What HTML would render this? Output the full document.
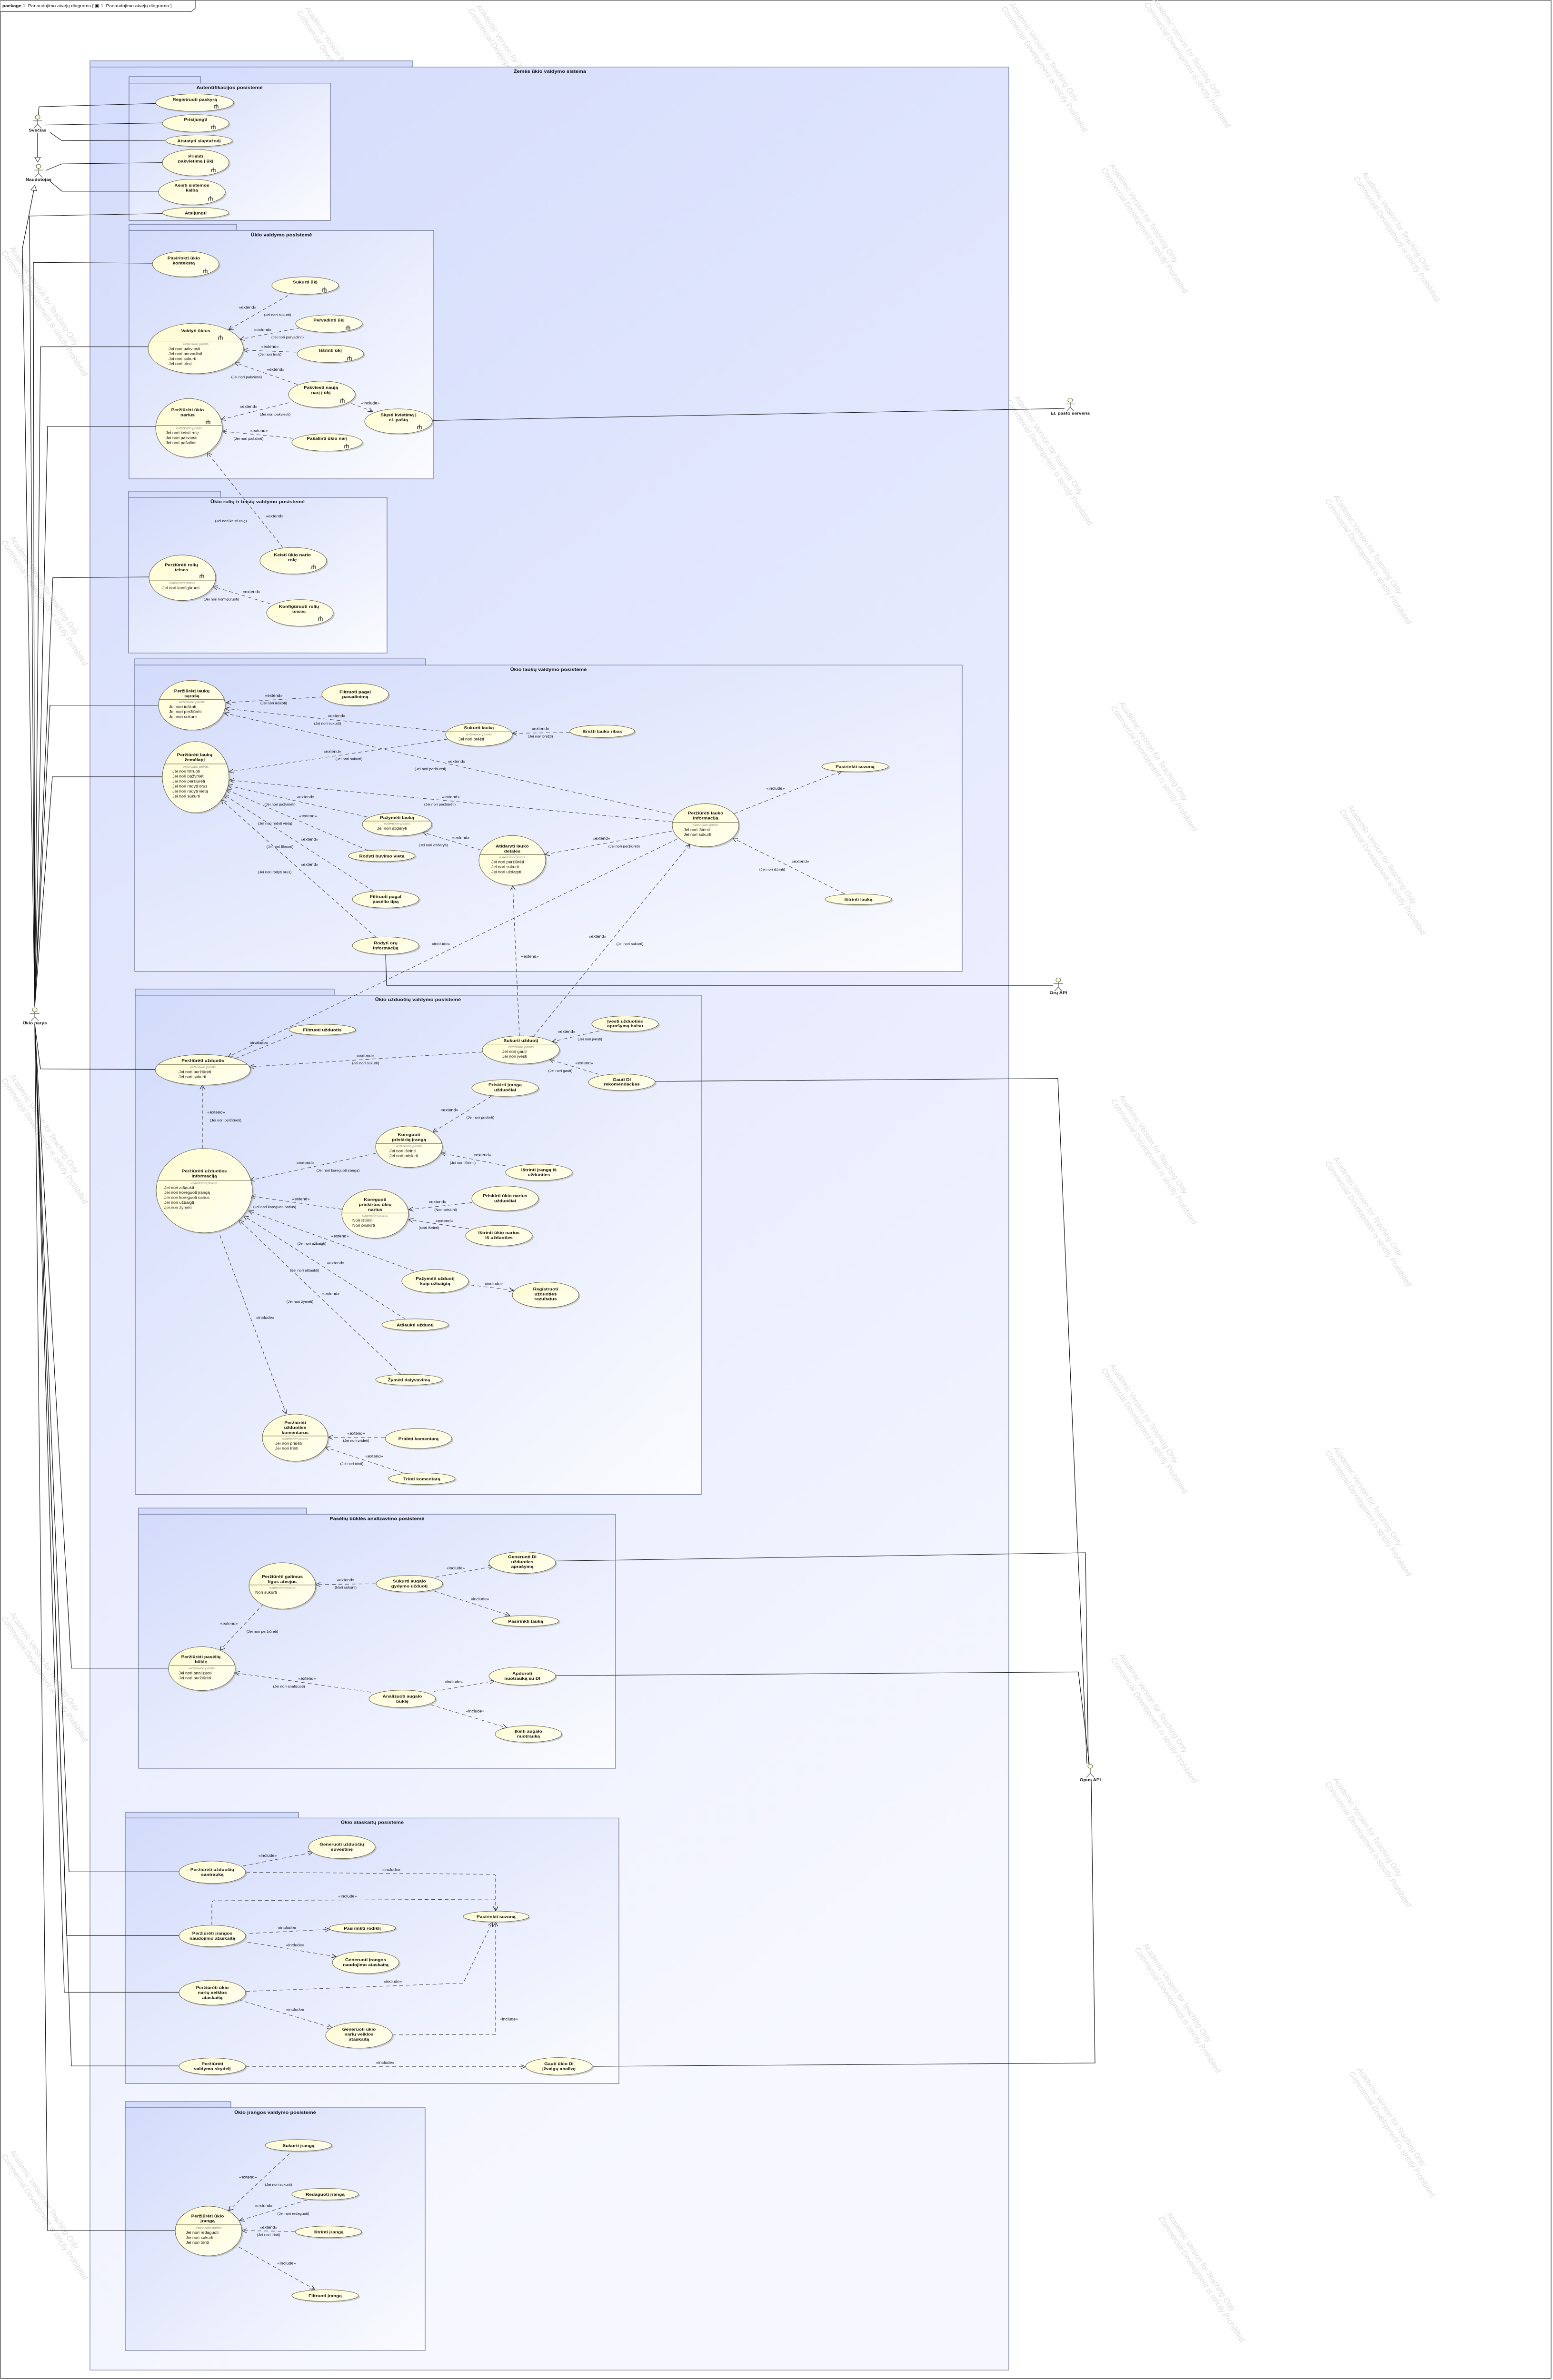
<!DOCTYPE html>
<html><head><meta charset="utf-8">
<style>
html,body{margin:0;padding:0;background:#fff;width:100vw;height:100vh;overflow:hidden;}
svg{display:block;width:100vw;height:100vh;}
text{font-family:"Liberation Sans",sans-serif;fill:#111;}
.t{font-size:10px;font-weight:bold;text-anchor:middle;}
.p{font-size:11px;font-weight:bold;text-anchor:middle;}
.x{font-size:7.5px;font-style:italic;fill:#888;text-anchor:middle;}
.k{font-size:9px;}
.l{font-size:9px;text-anchor:middle;}
.c{font-size:8px;text-anchor:middle;}
.w{font-size:17px;fill:#dcdcdc;}
.u{fill:url(#ug);stroke:#5a5a3a;stroke-width:1;}
.sh{fill:#9a9a9a;opacity:.45;}
.d{fill:none;stroke:#333;stroke-width:1;stroke-dasharray:8 6;marker-end:url(#ar);}
.s{fill:none;stroke:#111;stroke-width:1.2;}
.dv{stroke:#5a5a3a;stroke-width:1;}
.pk{stroke:#6a7090;stroke-width:1.2;fill:url(#pg);}
.tb{stroke:#6a7090;stroke-width:1.2;fill:#d3dbfb;}
</style></head><body>
<svg viewBox="0 0 3262 5751" preserveAspectRatio="none" xmlns="http://www.w3.org/2000/svg">
<defs>
<linearGradient id="ug" x1="0" y1="0" x2="1" y2="1"><stop offset="0" stop-color="#fffbd0"/><stop offset="1" stop-color="#fffff2"/></linearGradient>
<linearGradient id="pg" x1="0" y1="0" x2="1" y2="1"><stop offset="0" stop-color="#d3dbfb"/><stop offset="1" stop-color="#fbfcff"/></linearGradient>
<linearGradient id="mg" x1="0" y1="0" x2="0.3" y2="1"><stop offset="0" stop-color="#d4dcfc"/><stop offset="1" stop-color="#f7f8ff"/></linearGradient>
<marker id="ar" viewBox="0 0 12 12" refX="11" refY="6" markerWidth="12" markerHeight="12" orient="auto" markerUnits="userSpaceOnUse"><path d="M1,1 L11,6 L1,11" fill="none" stroke="#222" stroke-width="1.2"/></marker>
<marker id="gen" viewBox="0 0 14 14" refX="13" refY="7" markerWidth="14" markerHeight="14" orient="auto" markerUnits="userSpaceOnUse"><path d="M1,1 L13,7 L1,13 Z" fill="#fff" stroke="#222"/></marker>
<g id="ic"><path d="M4,0 V11 M0,4 H8 M0,4 V11 M8,4 V11" stroke="#333" stroke-width="1.4" fill="none"/></g>
<g id="act"><circle cx="0" cy="0" r="5" fill="#ffffd0" stroke="#555"/><path d="M0,5 V17 M-10,9 H10 M0,17 L-8,27 M0,17 L8,27" stroke="#555" stroke-width="1.2" fill="none"/></g>
</defs>

<rect x="1" y="1" width="3257" height="5746" fill="#fff" stroke="#333" stroke-width="1.2"/>
<path d="M1,1 H410 V20 L402,28 H1" fill="#fff" stroke="#333" stroke-width="1.2"/>
<text x="5" y="17" style="font-size:10px"><tspan font-weight="bold">package</tspan>  1. Panaudojimo atvejų diagrama [ ▣ 1. Panaudojimo atvejų diagrama ]</text>

<g>
<text class="w" transform="translate(640,20) rotate(60)">Academic Version for Teaching Only<tspan x="0" dy="20">Commercial Development is strictly Prohibited</tspan></text>
<text class="w" transform="translate(1000,15) rotate(60)">Academic Version for Teaching Only<tspan x="0" dy="20">Commercial Development is strictly Prohibited</tspan></text>
<text class="w" transform="translate(2120,10) rotate(60)">Academic Version for Teaching Only<tspan x="0" dy="20">Commercial Development is strictly Prohibited</tspan></text>
<text class="w" transform="translate(2420,0) rotate(60)">Academic Version for Teaching Only<tspan x="0" dy="20">Commercial Development is strictly Prohibited</tspan></text>
<text class="w" transform="translate(2330,400) rotate(60)">Academic Version for Teaching Only<tspan x="0" dy="20">Commercial Development is strictly Prohibited</tspan></text>
<text class="w" transform="translate(2860,420) rotate(60)">Academic Version for Teaching Only<tspan x="0" dy="20">Commercial Development is strictly Prohibited</tspan></text>
<text class="w" transform="translate(2130,960) rotate(60)">Academic Version for Teaching Only<tspan x="0" dy="20">Commercial Development is strictly Prohibited</tspan></text>
<text class="w" transform="translate(2800,1200) rotate(60)">Academic Version for Teaching Only<tspan x="0" dy="20">Commercial Development is strictly Prohibited</tspan></text>
<text class="w" transform="translate(2350,1700) rotate(60)">Academic Version for Teaching Only<tspan x="0" dy="20">Commercial Development is strictly Prohibited</tspan></text>
<text class="w" transform="translate(2830,1950) rotate(60)">Academic Version for Teaching Only<tspan x="0" dy="20">Commercial Development is strictly Prohibited</tspan></text>
<text class="w" transform="translate(2350,2650) rotate(60)">Academic Version for Teaching Only<tspan x="0" dy="20">Commercial Development is strictly Prohibited</tspan></text>
<text class="w" transform="translate(2800,2800) rotate(60)">Academic Version for Teaching Only<tspan x="0" dy="20">Commercial Development is strictly Prohibited</tspan></text>
<text class="w" transform="translate(2330,3300) rotate(60)">Academic Version for Teaching Only<tspan x="0" dy="20">Commercial Development is strictly Prohibited</tspan></text>
<text class="w" transform="translate(2800,3500) rotate(60)">Academic Version for Teaching Only<tspan x="0" dy="20">Commercial Development is strictly Prohibited</tspan></text>
<text class="w" transform="translate(2350,4000) rotate(60)">Academic Version for Teaching Only<tspan x="0" dy="20">Commercial Development is strictly Prohibited</tspan></text>
<text class="w" transform="translate(2800,4300) rotate(60)">Academic Version for Teaching Only<tspan x="0" dy="20">Commercial Development is strictly Prohibited</tspan></text>
<text class="w" transform="translate(2400,4700) rotate(60)">Academic Version for Teaching Only<tspan x="0" dy="20">Commercial Development is strictly Prohibited</tspan></text>
<text class="w" transform="translate(2850,5000) rotate(60)">Academic Version for Teaching Only<tspan x="0" dy="20">Commercial Development is strictly Prohibited</tspan></text>
<text class="w" transform="translate(2450,5350) rotate(60)">Academic Version for Teaching Only<tspan x="0" dy="20">Commercial Development is strictly Prohibited</tspan></text>
<text class="w" transform="translate(20,600) rotate(60)">Academic Version for Teaching Only<tspan x="0" dy="20">Commercial Development is strictly Prohibited</tspan></text>
<text class="w" transform="translate(20,1300) rotate(60)">Academic Version for Teaching Only<tspan x="0" dy="20">Commercial Development is strictly Prohibited</tspan></text>
<text class="w" transform="translate(20,2600) rotate(60)">Academic Version for Teaching Only<tspan x="0" dy="20">Commercial Development is strictly Prohibited</tspan></text>
<text class="w" transform="translate(20,3900) rotate(60)">Academic Version for Teaching Only<tspan x="0" dy="20">Commercial Development is strictly Prohibited</tspan></text>
<text class="w" transform="translate(20,5200) rotate(60)">Academic Version for Teaching Only<tspan x="0" dy="20">Commercial Development is strictly Prohibited</tspan></text>
</g>

<rect x="189" y="147" width="678" height="15" class="tb"/>
<rect x="189" y="162" width="1930" height="5565" fill="url(#mg)" stroke="#6a7090" stroke-width="1.2"/>
<text class="p" x="1155" y="176">Žemės ūkio valdymo sistema</text>

<rect x="271" y="185" width="150" height="16" class="tb"/><rect x="271" y="201" width="423" height="332" class="pk"/>
<text class="p" x="482" y="215">Autentifikacijos posistemė</text>

<rect x="271" y="542" width="226" height="15" class="tb"/><rect x="271" y="557" width="640" height="600" class="pk"/>
<text class="p" x="591" y="571">Ūkio valdymo posistemė</text>

<rect x="270" y="1187" width="193" height="15" class="tb"/><rect x="270" y="1202" width="543" height="376" class="pk"/>
<text class="p" x="541" y="1216">Ūkio rolių ir teisių valdymo posistemė</text>

<rect x="283" y="1592" width="611" height="15" class="tb"/><rect x="283" y="1607" width="1738" height="740" class="pk"/>
<text class="p" x="1152" y="1621">Ūkio laukų valdymo posistemė</text>

<rect x="284" y="2390" width="418" height="15" class="tb"/><rect x="284" y="2405" width="1189" height="1206" class="pk"/>
<text class="p" x="878" y="2419">Ūkio užduočių valdymo posistemė</text>

<rect x="291" y="3644" width="353" height="15" class="tb"/><rect x="291" y="3659" width="1002" height="614" class="pk"/>
<text class="p" x="792" y="3673">Pasėlių būklės analizavimo posistemė</text>

<rect x="264" y="4379" width="363" height="14" class="tb"/><rect x="264" y="4393" width="1036" height="642" class="pk"/>
<text class="p" x="782" y="4407">Ūkio ataskaitų posistemė</text>

<rect x="263" y="5078" width="222" height="15" class="tb"/><rect x="263" y="5093" width="630" height="587" class="pk"/>
<text class="p" x="578" y="5108">Ūkio įrangos valdymo posistemė</text>

<g class="s">
<path d="M80,280 L82,258 L327,250"/>
<path d="M94,302 L341,297"/>
<path d="M105,320 L130,340 L347,339"/>
<path d="M96,412 L130,396 L341,393"/>
<path d="M105,438 L130,462 L333,462"/>
<path d="M73,2432 L62,522 L341,516"/>
<path d="M73,2432 L70,634 L320,636"/>
<path d="M73,2432 L85,838 L312,838"/>
<path d="M73,2432 L100,1030 L327,1030"/>
<path d="M73,2432 L111,1396 L313,1394"/>
<path d="M73,2432 L105,1704 L334,1704"/>
<path d="M73,2432 L110,1877 L341,1877"/>
<path d="M73,2475 L85,2583 L326,2584"/>
<path d="M73,2475 L150,4031 L355,4031"/>
<path d="M73,2475 L145,4523 L376,4523"/>
<path d="M73,2475 L140,4677 L376,4677"/>
<path d="M73,2475 L135,4814 L376,4814"/>
<path d="M73,2475 L150,4992 L376,4992"/>
<path d="M73,2475 L100,5390 L368,5390"/>
<path d="M908,1016 L2236,987"/>
<path d="M810,2306 L812,2381 L2212,2381"/>
<path d="M1376,2613 L2222,2606 L2283,4262"/>
<path d="M1168,3772 L2280,3752 L2286,4262"/>
<path d="M1168,4049 L2265,4040 L2288,4262"/>
<path d="M1245,4993 L2300,4985 L2292,4302"/>
</g>
<path d="M73,2432 L47,600 L73,448" fill="none" stroke="#111" stroke-width="1.2" marker-end="url(#gen)"/>
<path d="M79,322 L79,392" fill="none" stroke="#111" stroke-width="1.2" marker-end="url(#gen)"/>

<use href="#act" x="79" y="283"/><text class="t" x="79" y="318">Svečias</text>
<use href="#act" x="81" y="402"/><text class="t" x="81" y="437">Naudotojas</text>
<use href="#act" x="73" y="2440"/><text class="t" x="73" y="2475">Ūkio narys</text>
<use href="#act" x="2248" y="967"/><text class="t" x="2248" y="1002">El. pašto serveris</text>
<use href="#act" x="2223" y="2368"/><text class="t" x="2223" y="2402">Orų API</text>
<use href="#act" x="2290" y="4268"/><text class="t" x="2290" y="4304">Opus API</text>

<g class="d">
<path d="M605,714 L480,797"/><path d="M631,792 L504,820"/><path d="M622,851 L511,846"/>
<path d="M625,929 L493,876"/><path d="M607,973 L464,1014"/><path d="M738,975 L783,994"/>
<path d="M616,1059 L466,1042"/><path d="M594,1323 L435,1093"/>
<path d="M568,1459 L447,1417"/>
<path d="M677,1684 L475,1698"/><path d="M937,1768 L473,1712"/><path d="M1197,1770 L1076,1772"/>
<path d="M940,1786 L481,1865"/><path d="M1412,1968 L471,1723"/><path d="M1412,1986 L481,1885"/>
<path d="M771,1974 L478,1898"/><path d="M773,2055 L475,1908"/><path d="M784,2153 L470,1920"/>
<path d="M790,2265 L465,1933"/><path d="M1010,2054 L888,2011"/><path d="M1412,2008 L1144,2065"/>
<path d="M1542,1966 L1768,1863"/><path d="M1774,2160 L1539,2025"/>
<path d="M1423,2027 L479,2554"/><path d="M1120,2505 L1449,2040"/><path d="M1091,2503 L1077,2141"/>
<path d="M494,2558 L643,2488"/><path d="M1013,2542 L523,2578"/><path d="M1259,2491 L1160,2517"/>
<path d="M1258,2596 L1154,2560"/><path d="M1032,2649 L909,2736"/><path d="M1062,2817 L926,2786"/>
<path d="M789,2787 L525,2852"/><path d="M718,2922 L526,2890"/><path d="M991,2906 L858,2923"/>
<path d="M985,2969 L858,2947"/><path d="M869,3071 L522,2926"/><path d="M988,3105 L1079,3118"/>
<path d="M852,3188 L512,2938"/><path d="M842,3321 L502,2948"/><path d="M462,2985 L601,3416"/>
<path d="M808,3474 L689,3473"/><path d="M846,3559 L683,3497"/><path d="M425,2775 L425,2622"/>
<path d="M789,3827 L663,3829"/><path d="M915,3811 L1036,3785"/><path d="M913,3845 L1071,3904"/>
<path d="M553,3876 L462,3988"/><path d="M779,4089 L493,4042"/><path d="M912,4087 L1038,4062"/>
<path d="M904,4119 L1065,4175"/>
<path d="M510,4509 L657,4476"/>
<path d="M517,4524 L1036,4529 Q1041,4529 1041,4535 L1041,4617"/>
<path d="M445,4652 L445,4598 Q445,4593 450,4593 L1036,4589 Q1041,4589 1041,4594 L1041,4617"/>
<path d="M524,4672 L693,4662"/><path d="M520,4693 L706,4728"/>
<path d="M517,4812 L973,4792 L1034,4645"/><path d="M501,4832 L698,4900"/>
<path d="M824,4917 L1041,4916 L1041,4645"/><path d="M516,4994 L1104,4994"/>
<path d="M608,5204 L480,5342"/><path d="M645,5316 L503,5366"/><path d="M619,5392 L508,5390"/>
<path d="M502,5430 L661,5532"/>
</g>

<g>
<text class="l" x="520" y="746">«extend»</text><text class="c" x="583" y="764">(Jei nori sukurti)</text>
<text class="l" x="552" y="800">«extend»</text><text class="c" x="604" y="818">(Jei nori pervadinti)</text>
<text class="l" x="567" y="841">«extend»</text><text class="c" x="567" y="859">(Jei nori trinti)</text>
<text class="l" x="579" y="896">«extend»</text><text class="c" x="518" y="914">(Jei nori pakviesti)</text>
<text class="l" x="522" y="986">«extend»</text><text class="c" x="578" y="1004">(Jei nori pakviesti)</text>
<text class="l" x="778" y="977">«include»</text>
<text class="l" x="544" y="1044">«extend»</text><text class="c" x="522" y="1063">(Jei nori pašalinti)</text>
<text class="l" x="577" y="1250">«extend»</text><text class="c" x="485" y="1262">(Jei nori keisti rolę)</text>
<text class="l" x="528" y="1433">«extend»</text><text class="c" x="465" y="1451">(Jei nori konfigūruoti)</text>

<text class="l" x="575" y="1684">«extend»</text><text class="c" x="575" y="1702">(Jei nori ieškoti)</text>
<text class="l" x="707" y="1733">«extend»</text><text class="c" x="688" y="1751">(Jei nori sukurti)</text>
<text class="l" x="1135" y="1764">«extend»</text><text class="c" x="1135" y="1782">(Jei nori brėžti)</text>
<text class="l" x="698" y="1819">«extend»</text><text class="c" x="733" y="1837">(Jei nori sukurti)</text>
<text class="l" x="959" y="1843">«extend»</text><text class="c" x="904" y="1861">(Jei nori peržiūrėti)</text>
<text class="l" x="947" y="1929">«extend»</text><text class="c" x="924" y="1947">(Jei nori peržiūrėti)</text>
<text class="l" x="642" y="1929">«extend»</text><text class="c" x="588" y="1947">(Jei nori pažymėti)</text>
<text class="l" x="647" y="1975">«extend»</text><text class="c" x="578" y="1993">(Jei nori rodyti vietą)</text>
<text class="l" x="650" y="2031">«extend»</text><text class="c" x="588" y="2049">(Jei nori filtruoti)</text>
<text class="l" x="650" y="2092">«extend»</text><text class="c" x="577" y="2110">(Jei nori rodyti orus)</text>
<text class="l" x="968" y="2027">«extend»</text><text class="c" x="910" y="2045">(Jei nori atidaryti)</text>
<text class="l" x="1263" y="2029">«extend»</text><text class="c" x="1311" y="2048">(Jei nori peržiūrėti)</text>
<text class="l" x="1629" y="1908">«include»</text>
<text class="l" x="1681" y="2085">«extend»</text><text class="c" x="1622" y="2104">(Jei nori ištrinti)</text>
<text class="l" x="926" y="2284">«include»</text>
<text class="l" x="1113" y="2314">«extend»</text>
<text class="l" x="1255" y="2266">«extend»</text><text class="c" x="1323" y="2284">(Jei nori sukurti)</text>

<text class="l" x="544" y="2523">«include»</text>
<text class="l" x="767" y="2554">«extend»</text><text class="c" x="768" y="2572">(Jei nori sukurti)</text>
<text class="l" x="1190" y="2496">«extend»</text><text class="c" x="1239" y="2514">(Jei nori įvesti)</text>
<text class="l" x="1227" y="2572">«extend»</text><text class="c" x="1177" y="2590">(Jei nori gauti)</text>
<text class="l" x="944" y="2685">«extend»</text><text class="c" x="1009" y="2703">(Jei nori priskirti)</text>
<text class="l" x="1013" y="2794">«extend»</text><text class="c" x="972" y="2813">(Jei nori ištrinti)</text>
<text class="l" x="641" y="2813">«extend»</text><text class="c" x="710" y="2831">(Jei nori koreguoti įrangą)</text>
<text class="l" x="632" y="2900">«extend»</text><text class="c" x="577" y="2919">(Jei nori koreguoti narius)</text>
<text class="l" x="919" y="2907">«extend»</text><text class="c" x="936" y="2926">(Nori priskirti)</text>
<text class="l" x="933" y="2953">«extend»</text><text class="c" x="901" y="2970">(Nori ištrinti)</text>
<text class="l" x="714" y="2990">«extend»</text><text class="c" x="655" y="3008">(Jei nori užbaigti)</text>
<text class="l" x="1037" y="3105">«include»</text>
<text class="l" x="705" y="3055">«extend»</text><text class="c" x="640" y="3073">(Jei nori atšaukti)</text>
<text class="l" x="695" y="3129">«extend»</text><text class="c" x="630" y="3148">(Jei nori žymėti)</text>
<text class="l" x="557" y="3187">«include»</text>
<text class="l" x="748" y="3467">«extend»</text><text class="c" x="748" y="3484">(Jei nori pridėti)</text>
<text class="l" x="786" y="3522">«extend»</text><text class="c" x="739" y="3540">(Jei nori trinti)</text>
<text class="l" x="454" y="2691">«extend»</text><text class="c" x="474" y="2710">(Jei nori peržiūrėti)</text>

<text class="l" x="726" y="3821">«extend»</text><text class="c" x="726" y="3839">(Nori sukurti)</text>
<text class="l" x="957" y="3792">«include»</text>
<text class="l" x="1008" y="3867">«include»</text>
<text class="l" x="481" y="3926">«extend»</text><text class="c" x="551" y="3945">(Jei nori peržiūrėti)</text>
<text class="l" x="645" y="4059">«extend»</text><text class="c" x="607" y="4078">(Jei nori analizuoti)</text>
<text class="l" x="953" y="4067">«include»</text>
<text class="l" x="998" y="4138">«include»</text>

<text class="l" x="562" y="4487">«include»</text>
<text class="l" x="822" y="4521">«include»</text>
<text class="l" x="730" y="4585">«include»</text>
<text class="l" x="603" y="4661">«include»</text>
<text class="l" x="620" y="4703">«include»</text>
<text class="l" x="825" y="4791">«include»</text>
<text class="l" x="620" y="4859">«include»</text>
<text class="l" x="1069" y="4882">«include»</text>
<text class="l" x="809" y="4987">«include»</text>

<text class="l" x="521" y="5264">«extend»</text><text class="c" x="585" y="5282">(Jei nori sukurti)</text>
<text class="l" x="554" y="5333">«extend»</text><text class="c" x="616" y="5352">(Jei nori redaguoti)</text>
<text class="l" x="564" y="5385">«extend»</text><text class="c" x="564" y="5403">(Jei nori trinti)</text>
<text class="l" x="602" y="5472">«include»</text>
</g>

<ellipse class="sh" cx="412" cy="251" rx="82" ry="21"/><ellipse class="u" cx="409" cy="248" rx="82" ry="21"/>
<text class="t" x="409" y="244">Registruoti paskyrą</text><use href="#ic" x="450" y="251"/>
<ellipse class="sh" cx="414" cy="301" rx="70" ry="21"/><ellipse class="u" cx="411" cy="298" rx="70" ry="21"/>
<text class="t" x="411" y="292">Prisijungti</text><use href="#ic" x="444" y="301"/>
<ellipse class="sh" cx="421" cy="343" rx="70" ry="14"/><ellipse class="u" cx="418" cy="340" rx="70" ry="14"/>
<text class="t" x="418" y="344">Atstatyti slaptažodį</text>
<ellipse class="sh" cx="414" cy="396" rx="70" ry="32"/><ellipse class="u" cx="411" cy="393" rx="70" ry="32"/>
<text class="t" x="411" y="381">Priimti</text><text class="t" x="411" y="393">pakvietimą į ūkį</text><use href="#ic" x="444" y="405"/>
<ellipse class="sh" cx="406" cy="467" rx="70" ry="31"/><ellipse class="u" cx="403" cy="464" rx="70" ry="31"/>
<text class="t" x="403" y="451">Keisti sistemos</text><text class="t" x="403" y="463">kalbą</text><use href="#ic" x="438" y="474"/>
<ellipse class="sh" cx="414" cy="517" rx="70" ry="13"/><ellipse class="u" cx="411" cy="514" rx="70" ry="13"/>
<text class="t" x="411" y="518">Atsijungti</text>

<ellipse class="sh" cx="393" cy="641" rx="70" ry="31"/><ellipse class="u" cx="390" cy="638" rx="70" ry="31"/>
<text class="t" x="386" y="627">Pasirinkti ūkio</text><text class="t" x="386" y="639">kontekstą</text><use href="#ic" x="427" y="649"/>
<ellipse class="sh" cx="644" cy="693" rx="70" ry="21"/><ellipse class="u" cx="641" cy="690" rx="70" ry="21"/>
<text class="t" x="641" y="685">Sukurti ūkį</text><use href="#ic" x="677" y="694"/>
<ellipse class="sh" cx="694" cy="785" rx="70" ry="21"/><ellipse class="u" cx="691" cy="782" rx="70" ry="21"/>
<text class="t" x="691" y="777">Pervadinti ūkį</text><use href="#ic" x="727" y="786"/>
<ellipse class="sh" cx="697" cy="858" rx="70" ry="21"/><ellipse class="u" cx="694" cy="855" rx="70" ry="21"/>
<text class="t" x="694" y="850">Ištrinti ūkį</text><use href="#ic" x="730" y="860"/>
<ellipse class="sh" cx="414" cy="845" rx="100" ry="61"/><ellipse class="u" cx="411" cy="842" rx="100" ry="61"/>
<text class="t" x="411" y="803">Valdyti ūkius</text><use href="#ic" x="459" y="810"/>
<line class="dv" x1="316" y1="824" x2="506" y2="824"/>
<text class="x" x="411" y="834">extension points</text>
<text class="k" x="354" y="846">Jei nori pakviesti</text><text class="k" x="354" y="858">Jei nori pervadinti</text><text class="k" x="354" y="870">Jei nori sukurti</text><text class="k" x="354" y="882">Jei nori trinti</text>
<ellipse class="sh" cx="679" cy="956" rx="70" ry="32"/><ellipse class="u" cx="676" cy="953" rx="70" ry="32"/>
<text class="t" x="674" y="940">Pakviesti naują</text><text class="t" x="674" y="952">narį į ūkį</text><use href="#ic" x="715" y="962"/>
<ellipse class="sh" cx="840" cy="1021" rx="71" ry="30"/><ellipse class="u" cx="837" cy="1018" rx="71" ry="30"/>
<text class="t" x="837" y="1006">Siųsti kvietimą į</text><text class="t" x="837" y="1018">el. paštą</text><use href="#ic" x="877" y="1026"/>
<ellipse class="sh" cx="400" cy="1037" rx="70" ry="71"/><ellipse class="u" cx="397" cy="1034" rx="70" ry="71"/>
<text class="t" x="394" y="994">Peržiūrėti ūkio</text><text class="t" x="394" y="1006">narius</text><use href="#ic" x="433" y="1014"/>
<line class="dv" x1="328" y1="1028" x2="466" y2="1028"/>
<text class="x" x="397" y="1037">extension points</text>
<text class="k" x="348" y="1049">Jei nori keisti rolę</text><text class="k" x="348" y="1061">Jei nori pakviesti</text><text class="k" x="348" y="1073">Jei nori pašalinti</text>
<ellipse class="sh" cx="690" cy="1072" rx="74" ry="21"/><ellipse class="u" cx="687" cy="1069" rx="74" ry="21"/>
<text class="t" x="687" y="1063">Pašalinti ūkio narį</text><use href="#ic" x="724" y="1072"/>

<ellipse class="sh" cx="386" cy="1399" rx="70" ry="55"/><ellipse class="u" cx="383" cy="1396" rx="70" ry="55"/>
<text class="t" x="381" y="1368">Peržiūrėti rolių</text><text class="t" x="381" y="1380">teises</text><use href="#ic" x="420" y="1386"/>
<line class="dv" x1="314" y1="1402" x2="452" y2="1402"/>
<text class="x" x="383" y="1411">extension points</text>
<text class="k" x="380" y="1424" text-anchor="middle">Jei nori konfigūruoti</text>
<ellipse class="sh" cx="619" cy="1358" rx="70" ry="32"/><ellipse class="u" cx="616" cy="1355" rx="70" ry="32"/>
<text class="t" x="614" y="1344">Keisti ūkio nario</text><text class="t" x="614" y="1356">rolę</text><use href="#ic" x="655" y="1364"/>
<ellipse class="sh" cx="633" cy="1484" rx="70" ry="32"/><ellipse class="u" cx="630" cy="1481" rx="70" ry="32"/>
<text class="t" x="628" y="1469">Konfigūruoti rolių</text><text class="t" x="628" y="1481">teises</text><use href="#ic" x="669" y="1489"/>

<ellipse class="sh" cx="406" cy="1707" rx="70" ry="60"/><ellipse class="u" cx="403" cy="1704" rx="70" ry="60"/>
<text class="t" x="403" y="1673">Peržiūrėtį laukų</text><text class="t" x="403" y="1685">sąrašą</text>
<line class="dv" x1="335" y1="1690" x2="471" y2="1690"/>
<text class="x" x="403" y="1699">extension points</text>
<text class="k" x="355" y="1711">Jei nori ieškoti</text><text class="k" x="355" y="1723">Jei nori peržiūrėti</text><text class="k" x="355" y="1735">Jei nori sukurti</text>
<ellipse class="sh" cx="749" cy="1681" rx="70" ry="27"/><ellipse class="u" cx="746" cy="1678" rx="70" ry="27"/>
<text class="t" x="746" y="1675">Filtruoti pagal</text><text class="t" x="746" y="1687">pavadinimą</text>
<ellipse class="sh" cx="1009" cy="1778" rx="70" ry="28"/><ellipse class="u" cx="1006" cy="1775" rx="70" ry="28"/>
<text class="t" x="1006" y="1762">Sukurti lauką</text>
<line class="dv" x1="939" y1="1768" x2="1073" y2="1768"/>
<text class="x" x="1006" y="1777">extension points</text>
<text class="k" x="963" y="1789">Jei nori brėžti</text>
<ellipse class="sh" cx="1268" cy="1770" rx="68" ry="15"/><ellipse class="u" cx="1265" cy="1767" rx="68" ry="15"/>
<text class="t" x="1265" y="1771">Brėžti lauko ribas</text>
<ellipse class="sh" cx="414" cy="1881" rx="70" ry="86"/><ellipse class="u" cx="411" cy="1878" rx="70" ry="86"/>
<text class="t" x="409" y="1827">Peržiūrėti laukų</text><text class="t" x="409" y="1839">žemėlapį</text>
<line class="dv" x1="346" y1="1846" x2="476" y2="1846"/>
<text class="x" x="411" y="1855">extension points</text>
<text class="k" x="362" y="1867">Jei nori filtruoti</text><text class="k" x="362" y="1879">Jei nori pažymėti</text><text class="k" x="362" y="1891">Jei nori peržiūrėti</text><text class="k" x="362" y="1903">Jei nori rodyti orus</text><text class="k" x="362" y="1915">Jei nori rodyti vietą</text><text class="k" x="362" y="1927">Jei nori sukurti</text>
<ellipse class="sh" cx="837" cy="1995" rx="73" ry="28"/><ellipse class="u" cx="834" cy="1992" rx="73" ry="28"/>
<text class="t" x="834" y="1979">Pažymėti lauką</text>
<line class="dv" x1="764" y1="1984" x2="904" y2="1984"/>
<text class="x" x="834" y="1993">extension points</text>
<text class="k" x="792" y="2005">Jei nori atidaryti</text>
<ellipse class="sh" cx="805" cy="2071" rx="70" ry="14"/><ellipse class="u" cx="802" cy="2068" rx="70" ry="14"/>
<text class="t" x="802" y="2072">Rodyti buvimo vietą</text>
<ellipse class="sh" cx="813" cy="2176" rx="70" ry="21"/><ellipse class="u" cx="810" cy="2173" rx="70" ry="21"/>
<text class="t" x="810" y="2170">Filtruoti pagal</text><text class="t" x="810" y="2182">pasėlio tipą</text>
<ellipse class="sh" cx="813" cy="2288" rx="70" ry="21"/><ellipse class="u" cx="810" cy="2285" rx="70" ry="21"/>
<text class="t" x="810" y="2282">Rodyti orų</text><text class="t" x="810" y="2294">informaciją</text>
<ellipse class="sh" cx="1079" cy="2082" rx="70" ry="60"/><ellipse class="u" cx="1076" cy="2079" rx="70" ry="60"/>
<text class="t" x="1076" y="2048">Atidaryti lauko</text><text class="t" x="1076" y="2060">detales</text>
<line class="dv" x1="1008" y1="2065" x2="1144" y2="2065"/>
<text class="x" x="1076" y="2074">extension points</text>
<text class="k" x="1032" y="2086">Jei nori peržiūrėti</text><text class="k" x="1032" y="2098">Jei nori sukurti</text><text class="k" x="1032" y="2110">Jei nori uždaryti</text>
<ellipse class="sh" cx="1485" cy="1997" rx="70" ry="52"/><ellipse class="u" cx="1482" cy="1994" rx="70" ry="52"/>
<text class="t" x="1482" y="1968">Peržiūrėti lauko</text><text class="t" x="1482" y="1980">informaciją</text>
<line class="dv" x1="1413" y1="1987" x2="1551" y2="1987"/>
<text class="x" x="1482" y="1996">extension points</text>
<text class="k" x="1436" y="2008">Jei nori ištrinti</text><text class="k" x="1436" y="2020">Jei nori sukurti</text>
<ellipse class="sh" cx="1799" cy="1855" rx="70" ry="13"/><ellipse class="u" cx="1796" cy="1852" rx="70" ry="13"/>
<text class="t" x="1796" y="1856">Pasirinkti sezoną</text>
<ellipse class="sh" cx="1806" cy="2176" rx="70" ry="13"/><ellipse class="u" cx="1803" cy="2173" rx="70" ry="13"/>
<text class="t" x="1803" y="2177">Ištrinti lauką</text>

<ellipse class="sh" cx="680" cy="2491" rx="70" ry="13"/><ellipse class="u" cx="677" cy="2488" rx="70" ry="13"/>
<text class="t" x="677" y="2492">Filtruoti užduotis</text>
<ellipse class="sh" cx="429" cy="2588" rx="100" ry="37"/><ellipse class="u" cx="426" cy="2585" rx="100" ry="37"/>
<text class="t" x="426" y="2566">Peržiūrėti užduotis</text>
<line class="dv" x1="333" y1="2572" x2="519" y2="2572"/>
<text class="x" x="426" y="2581">extension points</text>
<text class="k" x="375" y="2593">Jei nori peržiūrėti</text><text class="k" x="375" y="2605">Jei nori sukurti</text>
<ellipse class="sh" cx="1097" cy="2540" rx="81" ry="34"/><ellipse class="u" cx="1094" cy="2537" rx="81" ry="34"/>
<text class="t" x="1094" y="2518">Sukurti užduotį</text>
<line class="dv" x1="1020" y1="2523" x2="1168" y2="2523"/>
<text class="x" x="1094" y="2532">extension points</text>
<text class="k" x="1055" y="2544">Jei nori gauti</text><text class="k" x="1055" y="2556">Jei nori įvesti</text>
<ellipse class="sh" cx="1316" cy="2477" rx="70" ry="19"/><ellipse class="u" cx="1313" cy="2474" rx="70" ry="19"/>
<text class="t" x="1313" y="2471">Įvesti užduoties</text><text class="t" x="1313" y="2482">aprašymą balsu</text>
<ellipse class="sh" cx="1309" cy="2618" rx="70" ry="20"/><ellipse class="u" cx="1306" cy="2615" rx="70" ry="20"/>
<text class="t" x="1306" y="2612">Gauti DI</text><text class="t" x="1306" y="2623">rekomendacijas</text>
<ellipse class="sh" cx="1064" cy="2632" rx="70" ry="20"/><ellipse class="u" cx="1061" cy="2629" rx="70" ry="20"/>
<text class="t" x="1061" y="2625">Priskirti įrangą</text><text class="t" x="1061" y="2637">užduočiai</text>
<ellipse class="sh" cx="862" cy="2774" rx="70" ry="50"/><ellipse class="u" cx="859" cy="2771" rx="70" ry="50"/>
<text class="t" x="859" y="2745">Koreguoti</text><text class="t" x="859" y="2757">priskirtą įrangą</text>
<line class="dv" x1="790" y1="2763" x2="928" y2="2763"/>
<text class="x" x="859" y="2772">extension points</text>
<text class="k" x="818" y="2784">Jei nori ištrinti</text><text class="k" x="818" y="2796">Jei nori priskirti</text>
<ellipse class="sh" cx="1135" cy="2836" rx="70" ry="20"/><ellipse class="u" cx="1132" cy="2833" rx="70" ry="20"/>
<text class="t" x="1132" y="2830">Ištrinti įrangą iš</text><text class="t" x="1132" y="2842">užduoties</text>
<ellipse class="sh" cx="432" cy="2880" rx="101" ry="102"/><ellipse class="u" cx="429" cy="2877" rx="101" ry="102"/>
<text class="t" x="429" y="2833">Peržiūrėti užduoties</text><text class="t" x="429" y="2845">informaciją</text>
<line class="dv" x1="331" y1="2852" x2="527" y2="2852"/>
<text class="x" x="429" y="2861">extension points</text>
<text class="k" x="345" y="2873">Jei nori atšaukti</text><text class="k" x="345" y="2885">Jei nori koreguoti įrangą</text><text class="k" x="345" y="2897">Jei nori koreguoti narius</text><text class="k" x="345" y="2909">Jei nori užbaigti</text><text class="k" x="345" y="2921">Jei nori žymėti</text>
<ellipse class="sh" cx="791" cy="2936" rx="70" ry="59"/><ellipse class="u" cx="788" cy="2933" rx="70" ry="59"/>
<text class="t" x="788" y="2902">Koreguoti</text><text class="t" x="788" y="2914">priskirtus ūkio</text><text class="t" x="788" y="2926">narius</text>
<line class="dv" x1="718" y1="2931" x2="858" y2="2931"/>
<text class="x" x="788" y="2940">extension points</text>
<text class="k" x="740" y="2952">Nori ištrinti</text><text class="k" x="740" y="2964">Nori priskirti</text>
<ellipse class="sh" cx="1064" cy="2899" rx="70" ry="30"/><ellipse class="u" cx="1061" cy="2896" rx="70" ry="30"/>
<text class="t" x="1061" y="2893">Priskirti ūkio narius</text><text class="t" x="1061" y="2905">užduočiai</text>
<ellipse class="sh" cx="1051" cy="2989" rx="70" ry="25"/><ellipse class="u" cx="1048" cy="2986" rx="70" ry="25"/>
<text class="t" x="1048" y="2982">Ištrinti ūkio narius</text><text class="t" x="1048" y="2994">iš užduoties</text>
<ellipse class="sh" cx="917" cy="3099" rx="70" ry="28"/><ellipse class="u" cx="914" cy="3096" rx="70" ry="28"/>
<text class="t" x="914" y="3093">Pažymėti užduotį</text><text class="t" x="914" y="3105">kaip užbaigtą</text>
<ellipse class="sh" cx="1149" cy="3132" rx="70" ry="31"/><ellipse class="u" cx="1146" cy="3129" rx="70" ry="31"/>
<text class="t" x="1146" y="3118">Registruoti</text><text class="t" x="1146" y="3130">užduoties</text><text class="t" x="1146" y="3142">rezultatus</text>
<ellipse class="sh" cx="875" cy="3204" rx="70" ry="14"/><ellipse class="u" cx="872" cy="3201" rx="70" ry="14"/>
<text class="t" x="872" y="3205">Atšaukti užduotį</text>
<ellipse class="sh" cx="862" cy="3337" rx="70" ry="13"/><ellipse class="u" cx="859" cy="3334" rx="70" ry="13"/>
<text class="t" x="859" y="3338">Žymėti dalyvavimą</text>
<ellipse class="sh" cx="623" cy="3477" rx="69" ry="57"/><ellipse class="u" cx="620" cy="3474" rx="69" ry="57"/>
<text class="t" x="620" y="3441">Peržiūrėti</text><text class="t" x="620" y="3453">užduoties</text><text class="t" x="620" y="3465">komentarus</text>
<line class="dv" x1="552" y1="3470" x2="688" y2="3470"/>
<text class="x" x="620" y="3479">extension points</text>
<text class="k" x="578" y="3491">Jei nori pridėti</text><text class="k" x="578" y="3503">Jei nori trinti</text>
<ellipse class="sh" cx="882" cy="3479" rx="70" ry="24"/><ellipse class="u" cx="879" cy="3476" rx="70" ry="24"/>
<text class="t" x="879" y="3480">Pridėti komentarą</text>
<ellipse class="sh" cx="889" cy="3576" rx="70" ry="14"/><ellipse class="u" cx="886" cy="3573" rx="70" ry="14"/>
<text class="t" x="886" y="3577">Trinti komentarą</text>

<ellipse class="sh" cx="1100" cy="3779" rx="70" ry="26"/><ellipse class="u" cx="1097" cy="3776" rx="70" ry="26"/>
<text class="t" x="1097" y="3765">Generuoti DI</text><text class="t" x="1097" y="3777">užduoties</text><text class="t" x="1097" y="3789">aprašymą</text>
<ellipse class="sh" cx="596" cy="3835" rx="70" ry="56"/><ellipse class="u" cx="593" cy="3832" rx="70" ry="56"/>
<text class="t" x="593" y="3813">Peržiūrėti galimus</text><text class="t" x="593" y="3825">ligos atvejus</text>
<line class="dv" x1="524" y1="3830" x2="662" y2="3830"/>
<text class="x" x="593" y="3839">extension points</text>
<text class="k" x="536" y="3851">Nori sukurti</text>
<ellipse class="sh" cx="863" cy="3830" rx="70" ry="20"/><ellipse class="u" cx="860" cy="3827" rx="70" ry="20"/>
<text class="t" x="860" y="3824">Sukurti augalo</text><text class="t" x="860" y="3836">gydymo užduotį</text>
<ellipse class="sh" cx="1107" cy="3920" rx="70" ry="13"/><ellipse class="u" cx="1104" cy="3917" rx="70" ry="13"/>
<text class="t" x="1104" y="3921">Pasirinkti lauką</text>
<ellipse class="sh" cx="427" cy="4035" rx="70" ry="53"/><ellipse class="u" cx="424" cy="4032" rx="70" ry="53"/>
<text class="t" x="422" y="4007">Peržiūrėti pasėlių</text><text class="t" x="422" y="4019">būklę</text>
<line class="dv" x1="356" y1="4025" x2="492" y2="4025"/>
<text class="x" x="424" y="4034">extension points</text>
<text class="k" x="375" y="4046">Jei nori analizuoti</text><text class="k" x="375" y="4058">Jei nori peržiūrėti</text>
<ellipse class="sh" cx="1100" cy="4053" rx="70" ry="22"/><ellipse class="u" cx="1097" cy="4050" rx="70" ry="22"/>
<text class="t" x="1097" y="4047">Apdoroti</text><text class="t" x="1097" y="4059">nuotrauką su DI</text>
<ellipse class="sh" cx="848" cy="4108" rx="70" ry="21"/><ellipse class="u" cx="845" cy="4105" rx="70" ry="21"/>
<text class="t" x="845" y="4102">Analizuoti augalo</text><text class="t" x="845" y="4114">būklę</text>
<ellipse class="sh" cx="1113" cy="4193" rx="70" ry="20"/><ellipse class="u" cx="1110" cy="4190" rx="70" ry="20"/>
<text class="t" x="1110" y="4187">Įkelti augalo</text><text class="t" x="1110" y="4199">nuotrauką</text>

<ellipse class="sh" cx="721" cy="4466" rx="70" ry="28"/><ellipse class="u" cx="718" cy="4463" rx="70" ry="28"/>
<text class="t" x="718" y="4460">Generuoti užduočių</text><text class="t" x="718" y="4472">suvestinę</text>
<ellipse class="sh" cx="449" cy="4527" rx="70" ry="27"/><ellipse class="u" cx="446" cy="4524" rx="70" ry="27"/>
<text class="t" x="446" y="4521">Peržiūrėti užduočių</text><text class="t" x="446" y="4533">santrauką</text>
<ellipse class="sh" cx="1045" cy="4634" rx="69" ry="13"/><ellipse class="u" cx="1042" cy="4631" rx="69" ry="13"/>
<text class="t" x="1042" y="4635">Pasirinkti sezoną</text>
<ellipse class="sh" cx="764" cy="4662" rx="70" ry="12"/><ellipse class="u" cx="761" cy="4659" rx="70" ry="12"/>
<text class="t" x="761" y="4663">Pasirinkti rodiklį</text>
<ellipse class="sh" cx="449" cy="4681" rx="70" ry="26"/><ellipse class="u" cx="446" cy="4678" rx="70" ry="26"/>
<text class="t" x="446" y="4675">Peržiūrėti įrangos</text><text class="t" x="446" y="4687">naudojimo ataskaitą</text>
<ellipse class="sh" cx="771" cy="4745" rx="70" ry="27"/><ellipse class="u" cx="768" cy="4742" rx="70" ry="27"/>
<text class="t" x="768" y="4739">Generuoti įrangos</text><text class="t" x="768" y="4751">naudojimo ataskaitą</text>
<ellipse class="sh" cx="449" cy="4818" rx="70" ry="30"/><ellipse class="u" cx="446" cy="4815" rx="70" ry="30"/>
<text class="t" x="446" y="4806">Peržiūrėti ūkio</text><text class="t" x="446" y="4818">narių veiklos</text><text class="t" x="446" y="4830">ataskaitą</text>
<ellipse class="sh" cx="757" cy="4921" rx="70" ry="31"/><ellipse class="u" cx="754" cy="4918" rx="70" ry="31"/>
<text class="t" x="754" y="4907">Generuoti ūkio</text><text class="t" x="754" y="4919">narių veiklos</text><text class="t" x="754" y="4931">ataskaitą</text>
<ellipse class="sh" cx="449" cy="4996" rx="70" ry="20"/><ellipse class="u" cx="446" cy="4993" rx="70" ry="20"/>
<text class="t" x="446" y="4990">Peržiūrėti</text><text class="t" x="446" y="5002">valdymo skydelį</text>
<ellipse class="sh" cx="1177" cy="4996" rx="70" ry="21"/><ellipse class="u" cx="1174" cy="4993" rx="70" ry="21"/>
<text class="t" x="1174" y="4990">Gauti ūkio DI</text><text class="t" x="1174" y="5002">įžvalgų analizę</text>

<ellipse class="sh" cx="630" cy="5187" rx="70" ry="14"/><ellipse class="u" cx="627" cy="5184" rx="70" ry="14"/>
<text class="t" x="627" y="5188">Sukurti įrangą</text>
<ellipse class="sh" cx="686" cy="5305" rx="70" ry="14"/><ellipse class="u" cx="683" cy="5302" rx="70" ry="14"/>
<text class="t" x="683" y="5306">Redaguoti įrangą</text>
<ellipse class="sh" cx="441" cy="5394" rx="70" ry="60"/><ellipse class="u" cx="438" cy="5391" rx="70" ry="60"/>
<text class="t" x="436" y="5358">Peržiūrėti ūkio</text><text class="t" x="436" y="5370">įrangą</text>
<line class="dv" x1="370" y1="5376" x2="506" y2="5376"/>
<text class="x" x="438" y="5386">extension points</text>
<text class="k" x="390" y="5398">Jei nori redaguoti</text><text class="k" x="390" y="5410">Jei nori sukurti</text><text class="k" x="390" y="5422">Jei nori trinti</text>
<ellipse class="sh" cx="693" cy="5396" rx="70" ry="14"/><ellipse class="u" cx="690" cy="5393" rx="70" ry="14"/>
<text class="t" x="690" y="5397">Ištrinti įrangą</text>
<ellipse class="sh" cx="686" cy="5550" rx="70" ry="14"/><ellipse class="u" cx="683" cy="5547" rx="70" ry="14"/>
<text class="t" x="683" y="5551">Filtruoti įrangą</text>
</svg>
</body></html>
